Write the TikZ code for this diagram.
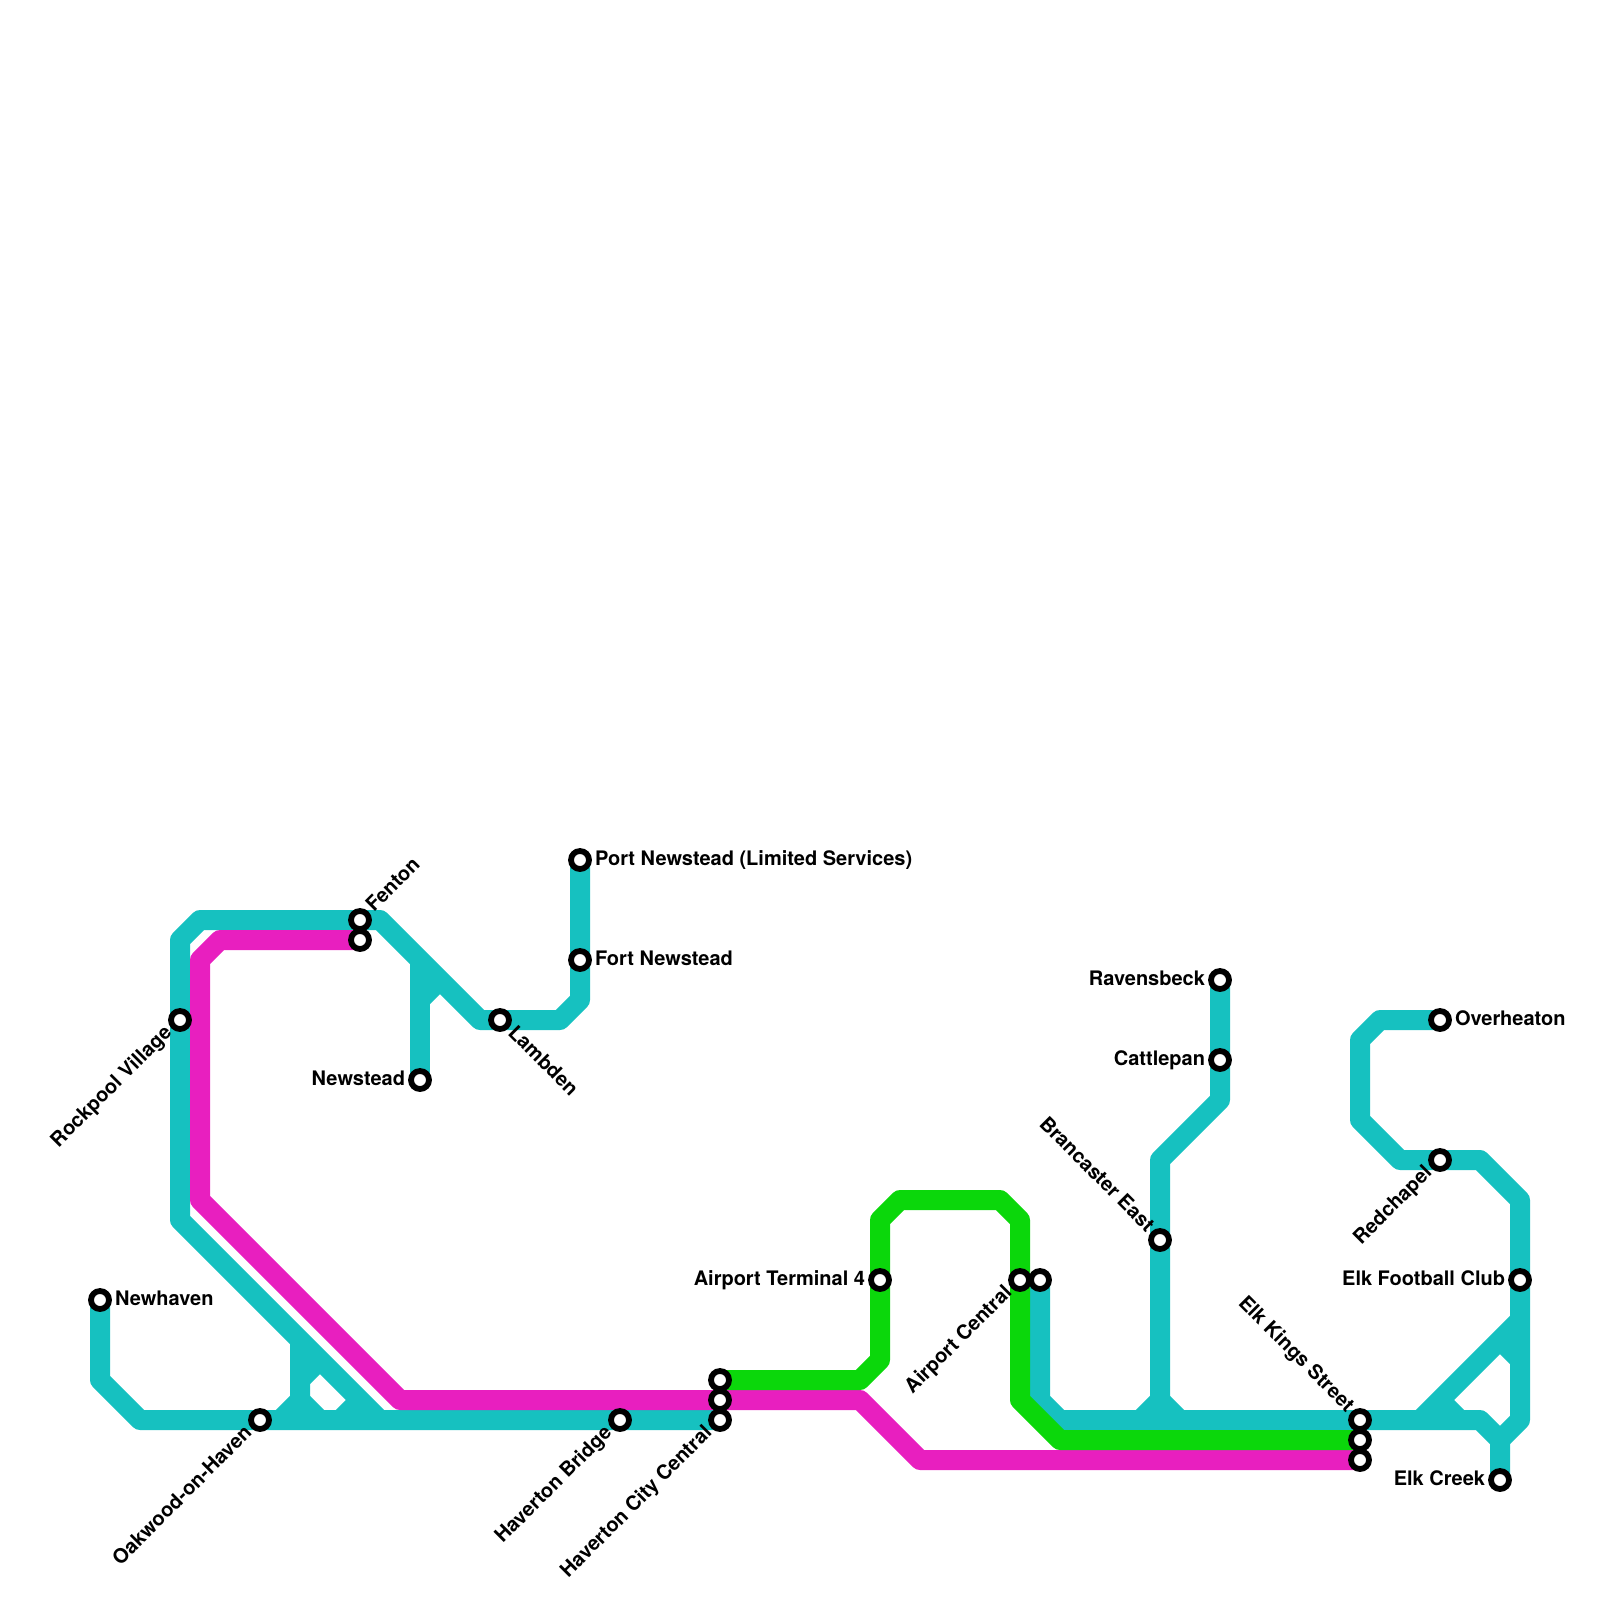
\documentclass[tikz,border=0pt]{standalone}
\usepackage{fontspec}
\setmainfont{TeX Gyre Heros}
\usetikzlibrary{backgrounds}
\definecolor{tealline}{HTML}{16C1C0}
\definecolor{pinkline}{HTML}{E81FBF}
\definecolor{greenline}{HTML}{0BD70B}
\tikzset{
  metro/.style={line width=10pt,line join=round},
  stn/.style={circle,draw=black,fill=white,line width=2.9pt,minimum size=9pt,inner sep=0pt,outer sep=0pt},
  lbl/.style={font=\bfseries\fontsize{10pt}{12pt}\selectfont,inner sep=0pt,outer sep=0pt},
  lblE/.style={lbl,anchor=base west,xshift=7.5pt,yshift=-2.8pt},
  lblW/.style={lbl,anchor=base east,xshift=-7.5pt,yshift=-2.8pt},
  lblNE/.style={lbl,rotate=45,anchor=base west,xshift=7.5pt,yshift=-2.4pt},
  lblSE/.style={lbl,rotate=-45,anchor=base west,xshift=7.5pt,yshift=-2.4pt},
  lblSW/.style={lbl,rotate=45,anchor=base east,xshift=-7.5pt,yshift=-2.4pt},
  lblNW/.style={lbl,rotate=-45,anchor=base east,xshift=-7.5pt,yshift=-2.4pt},
}

\begin{document}
\begin{tikzpicture}[x=.5pt,y=-.5pt]
  \useasboundingbox (0,0) rectangle (1600,1600);
  % stations
  \node[stn] (newhaven) at (100,1300) {};
  \node[stn] (oakwood) at (260,1420) {};
  \node[stn] (rockpool) at (180,1020) {};
  \node[stn] (fenton) at (360,920) {};
  \node[stn] (fentonb) at (360,940) {};
  \node[stn] (newstead) at (420,1080) {};
  \node[stn] (lambden) at (500,1020) {};
  \node[stn] (fortnew) at (580,960) {};
  \node[stn] (portnew) at (580,860) {};
  \node[stn] (havbridge) at (620,1420) {};
  \node[stn] (havcity) at (720,1420) {};
  \node[stn] (havcityb) at (720,1400) {};
  \node[stn] (havcityc) at (720,1380) {};
  \node[stn] (terminal) at (880,1280) {};
  \node[stn] (airport) at (1020,1280) {};
  \node[stn] (airportb) at (1040,1280) {};
  \node[stn] (brancaster) at (1160,1240) {};
  \node[stn] (cattlepan) at (1220,1060) {};
  \node[stn] (ravensbeck) at (1220,980) {};
  \node[stn] (elkkings) at (1360,1420) {};
  \node[stn] (elkkingsb) at (1360,1440) {};
  \node[stn] (elkkingsc) at (1360,1460) {};
  \node[stn] (overheaton) at (1440,1020) {};
  \node[stn] (redchapel) at (1440,1160) {};
  \node[stn] (elkfc) at (1520,1280) {};
  \node[stn] (elkcreek) at (1500,1480) {};
  % labels
  \node[lblE] (newhavenlbl) at (newhaven) {Newhaven};
  \node[lblSW] (oakwoodlbl) at (oakwood) {Oakwood-on-Haven};
  \node[lblSW] (rockpoollbl) at (rockpool) {Rockpool Village};
  \node[lblNE] (fentonlbl) at (fenton) {Fenton};
  \node[lblW] (newsteadlbl) at (newstead) {Newstead};
  \node[lblSE] (lambdenlbl) at (lambden) {Lambden};
  \node[lblE] (fortnewlbl) at (fortnew) {Fort Newstead};
  \node[lblE] (portnewlbl) at (portnew) {Port Newstead (Limited Services)};
  \node[lblSW] (havbridgelbl) at (havbridge) {Haverton Bridge};
  \node[lblSW] (havcitylbl) at (havcity) {Haverton City Central};
  \node[lblW] (terminallbl) at (terminal) {Airport Terminal 4};
  \node[lblSW] (airportlbl) at (airport) {Airport Central};
  \node[lblNW] (brancasterlbl) at (brancaster) {Brancaster East};
  \node[lblW] (cattlepanlbl) at (cattlepan) {Cattlepan};
  \node[lblW] (ravensbecklbl) at (ravensbeck) {Ravensbeck};
  \node[lblNW] (elkkingslbl) at (elkkings) {Elk Kings Street};
  \node[lblE] (overheatonlbl) at (overheaton) {Overheaton};
  \node[lblSW] (redchapellbl) at (redchapel) {Redchapel};
  \node[lblW] (elkfclbl) at (elkfc) {Elk Football Club};
  \node[lblW] (elkcreeklbl) at (elkcreek) {Elk Creek};
  % junctions
  \coordinate (junctoak) at (300,1340);
  \coordinate (junctnew) at (420,960);
  \coordinate (junctbra) at (1160,1400);
  \coordinate (junctelk) at (1500,1440);
  \begin{scope}[on background layer]
    \draw[metro,tealline] (newhaven.center) -- (100,1380) -- (140,1420) -- (havcity.center);
    \draw[metro,tealline] (380,1420) -- (180,1220) -- (rockpool.center) -- (180,940) -- (200,920)
      -- (fenton.center) -- (380,920) -- (480,1020) -- (lambden.center) -- (560,1020) -- (580,1000)
      -- (fortnew.center) -- (portnew.center);
    \draw[metro,tealline] (junctoak) -- (300,1400) -- (280,1420);
    \draw[metro,tealline] (300,1400) -- (320,1420);
    \draw[metro,tealline] (300,1380) -- (320,1360);
    \draw[metro,tealline] (340,1420) -- (360,1400);
    \draw[metro,tealline] (junctnew) -- (newstead.center);
    \draw[metro,tealline] (420,1000) -- (440,980);
    \draw[metro,tealline] (airportb.center) -- (1040,1400) -- (1060,1420) -- (elkkings.center)
      -- (1480,1420) -- (junctelk) -- (elkcreek.center);
    \draw[metro,tealline] (ravensbeck.center) -- (cattlepan.center) -- (1220,1100) -- (1160,1160)
      -- (brancaster.center) -- (junctbra) -- (1140,1420);
    \draw[metro,tealline] (junctbra) -- (1180,1420);
    \draw[metro,tealline] (overheaton.center) -- (1380,1020) -- (1360,1040) -- (1360,1120) -- (1400,1160)
      -- (redchapel.center) -- (1480,1160) -- (1520,1200) -- (elkfc.center) -- (1520,1420) -- (junctelk);
    \draw[metro,tealline] (1420,1420) -- (1520,1320);
    \draw[metro,tealline] (1440,1400) -- (1460,1420);
    \draw[metro,tealline] (1500,1340) -- (1520,1360);
    \draw[metro,pinkline] (fentonb.center) -- (220,940) -- (200,960) -- (200,1200) -- (400,1400)
      -- (havcityb.center) -- (860,1400) -- (920,1460) -- (elkkingsc.center);
    \draw[metro,greenline] (havcityc.center) -- (860,1380) -- (880,1360) -- (terminal.center) -- (880,1220)
      -- (900,1200) -- (1000,1200) -- (1020,1220) -- (airport.center) -- (1020,1400) -- (1060,1440)
      -- (elkkingsb.center);
  \end{scope}
\end{tikzpicture}
\end{document}
